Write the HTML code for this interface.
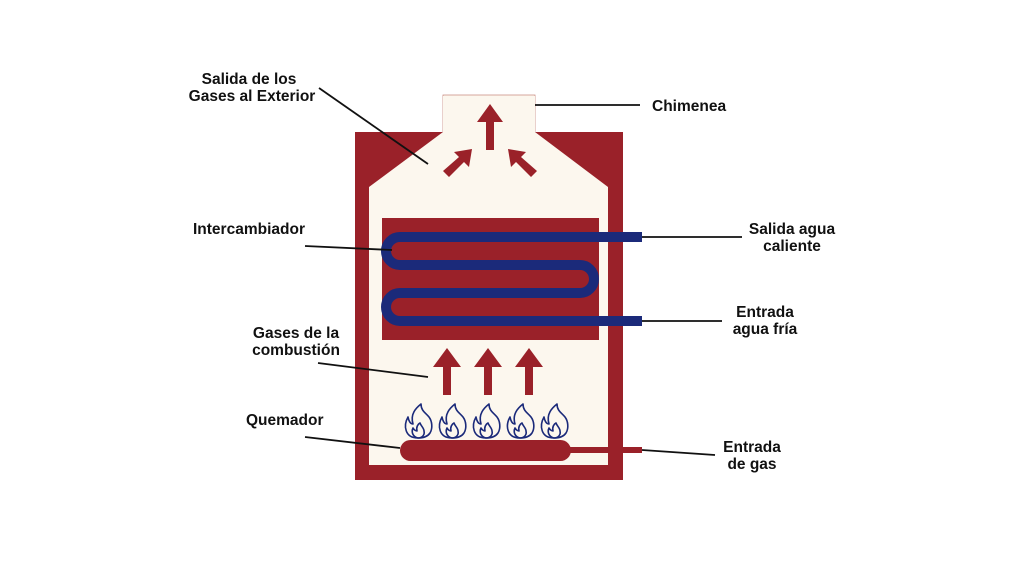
<!DOCTYPE html>
<html><head><meta charset="utf-8"><style>
html,body{margin:0;padding:0;background:#fff;}
svg{display:block}
text{font-family:"Liberation Sans",sans-serif;font-weight:bold;font-size:15.5px;fill:#111;}
</style></head><body>
<svg width="1024" height="576" viewBox="0 0 1024 576">
<rect x="355" y="132" width="268" height="348" fill="#9a2129"/>
<polyline points="443,132 443,95 535,95 535,132" fill="#fcf7ee" stroke="#c98a80" stroke-width="0.8"/>
<polygon points="443,96 535,96 535,132 608,187 608,465 369,465 369,187 443,132" fill="#fcf7ee"/>
<rect x="382" y="218" width="217" height="122" fill="#9a2129"/>
<path d="M642,237 H400 A14,14 0 0 0 400,265 H580 A14,14 0 0 1 580,293 H400 A14,14 0 0 0 400,321 H642" fill="none" stroke="#1b2a7a" stroke-width="10"/>
<g fill="#9a2129">
<polygon points="486,150 494,150 494,122 503,122 490,104 477,122 486,122"/>
<polygon points="443,171 449,177 464,162 469,167 472,149 454,152 459,157"/>
<polygon points="537,171 531,177 516,162 511,167 508,149 526,152 521,157"/>
<polygon points="443,395 451,395 451,367 461,367 447,348 433,367 443,367"/>
<polygon points="484,395 492,395 492,367 502,367 488,348 474,367 484,367"/>
<polygon points="525,395 533,395 533,367 543,367 529,348 515,367 525,367"/>
<rect x="400" y="440" width="171" height="21" rx="10.5"/>
<rect x="565" y="447" width="77" height="6"/>
</g>
<g fill="none" stroke="#1b2a7a" stroke-width="1.6" stroke-linejoin="round">
<g id="f"><path d="M418,438 C405,438 403,426 408,417 C409,422 411,424 413,424 C410,414 416,408 421,404 C421,411 426,413 429,417 C432,421 433,428 430,433 C428,436 424,438 418,438 Z"/><path d="M418,438 C413,437 411,432 413,428 C414,430 416,431 417,431 C416,427 418,424 420,423 C421,426 424,428 424,431 C425,435 422,438 418,438 Z"/></g>
<use href="#f" x="34"/><use href="#f" x="68"/><use href="#f" x="102"/><use href="#f" x="136"/>
</g>
<g stroke="#111" stroke-width="1.8" fill="none">
<line x1="319" y1="88" x2="428" y2="164"/>
<line x1="535" y1="105" x2="640" y2="105"/>
<line x1="305" y1="246" x2="392" y2="250"/>
<line x1="642" y1="237" x2="742" y2="237"/>
<line x1="642" y1="321" x2="722" y2="321"/>
<line x1="318" y1="363" x2="428" y2="377"/>
<line x1="305" y1="437" x2="400" y2="448"/>
<line x1="642" y1="450" x2="715" y2="455"/>
</g>
<text x="249" y="84" text-anchor="middle">Salida de los</text>
<text x="252" y="101" text-anchor="middle">Gases al Exterior</text>
<text x="652" y="111">Chimenea</text>
<text x="193" y="234">Intercambiador</text>
<text x="792" y="234" text-anchor="middle">Salida agua</text>
<text x="792" y="251" text-anchor="middle">caliente</text>
<text x="765" y="317" text-anchor="middle">Entrada</text>
<text x="765" y="334" text-anchor="middle">agua fría</text>
<text x="296" y="338" text-anchor="middle">Gases de la</text>
<text x="296" y="355" text-anchor="middle">combustión</text>
<text x="246" y="425">Quemador</text>
<text x="752" y="452" text-anchor="middle">Entrada</text>
<text x="752" y="469" text-anchor="middle">de gas</text>
</svg>
</body></html>
